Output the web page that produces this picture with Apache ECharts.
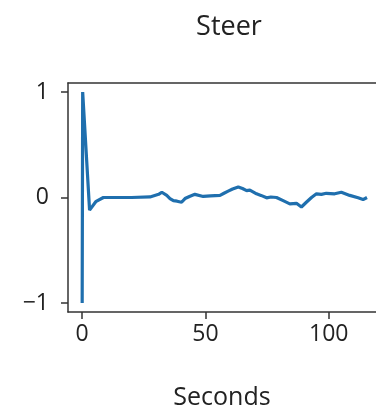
<!DOCTYPE html>
<html>
<head>
<meta charset="utf-8">
<script src="https://cdn.jsdelivr.net/npm/echarts@6/dist/echarts.min.js"></script>
<style>
  html, body { margin: 0; padding: 0; background: #fff; }
  #chart { width: 376px; height: 412px; }
</style>
</head>
<body>
<div id="chart"></div>
<script>
// steering trace
const seconds = [0, 0.2, 3.0, 5.5, 8.6, 20, 27.5, 31, 32.3, 34.3, 35.6, 37, 38.5, 40.3, 41.7, 43.5,
  45.7, 49.1, 52, 55.9, 57.5, 59.2, 61, 63.3, 65, 66.7, 68, 70.7, 72.5, 74.8, 76.5, 78.8, 81.5,
  84.2, 86.9, 88.9, 90.9, 93, 95, 97, 99, 102.4, 105.1, 108.5, 111.9, 113.9, 115.5];
const steer = [-1, 1, -0.12, -0.04, 0, 0, 0.005, 0.03, 0.05, 0.02, -0.01, -0.03, -0.035, -0.045, -0.01, 0.01,
  0.03, 0.01, 0.015, 0.02, 0.04, 0.06, 0.08, 0.1, 0.085, 0.065, 0.07, 0.035, 0.02, -0.003, 0.005, 0, -0.03,
  -0.06, -0.055, -0.09, -0.045, 0.0, 0.035, 0.03, 0.04, 0.035, 0.05, 0.02, -0.003, -0.02, 0];
const yTicks = [-1, 0, 1];
const xTicks = [0, 50, 100];

const font = '"Open Sans", "DejaVu Sans", sans-serif';
const chart = echarts.init(document.getElementById('chart'));

// the plot box runs a little past the right edge, so no right border is drawn
const frame = { show: true, onZero: false, lineStyle: { color: '#333', width: 1.5 } };

chart.setOption({
  animation: false,
  title: {
    text: 'Steer',
    left: 224,
    top: 9,
    textAlign: 'center',
    textStyle: { fontFamily: font, fontSize: 27, fontWeight: 'normal', color: '#222' },
  },
  grid: {
    left: 68,
    right: 0,
    top: 83,
    bottom: 100,
    outerBoundsMode: 'none',
  },
  xAxis: [
    {
      type: 'value',
      min: -5.75,
      max: 119.15,
      name: 'Seconds',
      nameLocation: 'middle',
      nameGap: 73,
      nameTextStyle: { fontFamily: font, fontSize: 25, color: '#222' },
      splitLine: { show: false },
      axisLine: frame,
      axisTick: { show: true, length: 7, customValues: xTicks, lineStyle: { color: '#333', width: 1.5 } },
      axisLabel: {
        customValues: xTicks,
        margin: 11,
        fontFamily: font,
        fontSize: 23,
        color: '#222',
      },
    },
    {
      type: 'value',
      position: 'top',
      min: -5.75,
      max: 119.15,
      splitLine: { show: false },
      axisLine: frame,
      axisTick: { show: false },
      axisLabel: { show: false },
    },
  ],
  yAxis: {
    type: 'value',
    min: -1.085,
    max: 1.085,
    splitLine: { show: false },
    axisLine: frame,
    axisTick: { show: true, length: 7, customValues: yTicks, lineStyle: { color: '#333', width: 1.5 } },
    axisLabel: {
      customValues: yTicks,
      margin: 19,
      fontFamily: font,
      fontSize: 23,
      color: '#222',
      formatter: (v) => (v < 0 ? '\u2212' + Math.abs(v) : String(v)),
    },
  },
  series: [
    {
      type: 'line',
      data: seconds.map((t, i) => [t, steer[i]]),
      showSymbol: false,
      lineStyle: { color: '#1f6fae', width: 3.2 },
      clip: true,
    },
  ],
});
</script>
</body>
</html>
